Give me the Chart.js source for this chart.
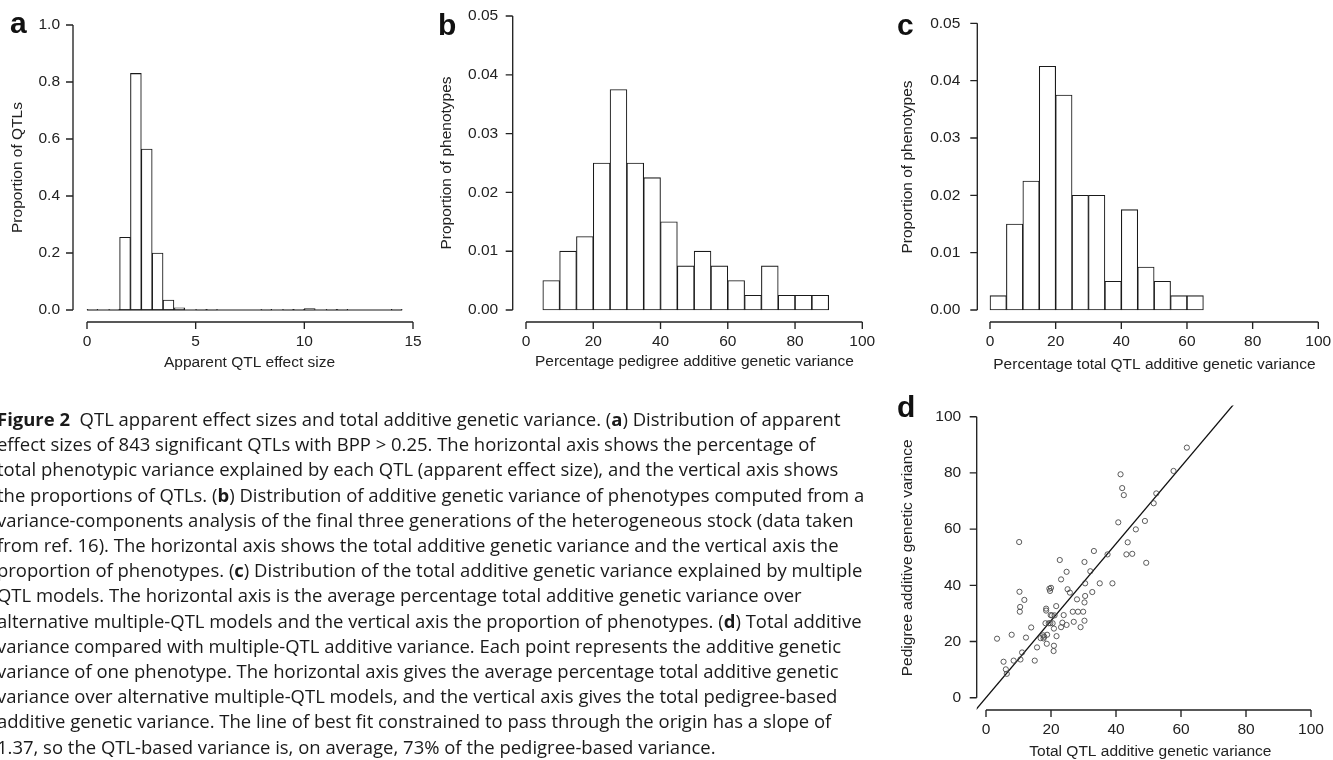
<!DOCTYPE html>
<html>
<head>
<meta charset="utf-8">
<title>Figure 2</title>
<script src="https://cdn.jsdelivr.net/npm/chart.js@4.4.1/dist/chart.umd.min.js"></script>
<style>
  html, body { margin: 0; padding: 0; background: #fff; }
  #page { position: relative; width: 1333px; height: 760px; overflow: hidden; }
  .layer { position: absolute; left: 0; top: 0; width: 1333px; height: 760px; }
  #caption {
    position: absolute; left: -3px; top: 406px;
    font-family: "Open Sans", "Liberation Sans", sans-serif; font-size: 17px; line-height: 25.2px;
    color: #1a1a1a; white-space: pre;
  }
  #caption span { display: inline-block; }
</style>
</head>
<body>
<div id="page">
  <div class="layer"><canvas id="chartA"></canvas></div>
  <div class="layer"><canvas id="chartB"></canvas></div>
  <div class="layer"><canvas id="chartC"></canvas></div>
  <div class="layer"><canvas id="chartD"></canvas></div>
  <div id="caption"><span id="capFirst"><b>Figure 2</b>  QTL apparent effect sizes and total additive genetic variance. (<b>a</b>) Distribution of apparent</span>
effect sizes of 843 significant QTLs with BPP &gt; 0.25. The horizontal axis shows the percentage of
total phenotypic variance explained by each QTL (apparent effect size), and the vertical axis shows
the proportions of QTLs. (<b>b</b>) Distribution of additive genetic variance of phenotypes computed from a
variance-components analysis of the final three generations of the heterogeneous stock (data taken
from ref. 16). The horizontal axis shows the total additive genetic variance and the vertical axis the
proportion of phenotypes. (<b>c</b>) Distribution of the total additive genetic variance explained by multiple
QTL models. The horizontal axis is the average percentage total additive genetic variance over
alternative multiple-QTL models and the vertical axis the proportion of phenotypes. (<b>d</b>) Total additive
variance compared with multiple-QTL additive variance. Each point represents the additive genetic
variance of one phenotype. The horizontal axis gives the average percentage total additive genetic
variance over alternative multiple-QTL models, and the vertical axis gives the total pedigree-based
additive genetic variance. The line of best fit constrained to pass through the origin has a slope of
1.37, so the QTL-based variance is, on average, 73% of the pedigree-based variance.</div>
</div>

<script>
    "use strict";

    // ---- data ----

    // (a) apparent QTL effect size, histogram bins of 0.5 from 0
    const effectBinStart = 0;
    const effectBinWidth = 0.5;
    const effectDensity = [0.0024, 0, 0.0024, 0.255, 0.83, 0.565, 0.2, 0.035, 0.008, 0,
        0.0024, 0.0024, 0, 0, 0, 0, 0.0024, 0, 0.0024, 0.0024,
        0.0047, 0, 0.0024, 0.0024, 0, 0, 0, 0, 0.0024];
    const effectXTicks = [0, 5, 10, 15];
    const effectYTicks = [0, 0.2, 0.4, 0.6, 0.8, 1.0];

    // (b) percentage pedigree additive genetic variance, bins of 5 from 5
    const pedigreeBinStart = 5;
    const pedigreeBinWidth = 5;
    const pedigreeDensity = [0.005, 0.01, 0.0125, 0.025, 0.0375, 0.025, 0.0225, 0.015, 0.0075,
        0.01, 0.0075, 0.005, 0.0025, 0.0075, 0.0025, 0.0025, 0.0025];

    // (c) percentage total QTL additive genetic variance, bins of 5 from 0
    const qtlBinStart = 0;
    const qtlBinWidth = 5;
    const qtlDensity = [0.0025, 0.015, 0.0225, 0.0425, 0.0375, 0.02, 0.02, 0.005, 0.0175,
        0.0075, 0.005, 0.0025, 0.0025];

    const percentXTicks = [0, 20, 40, 60, 80, 100];
    const proportionYTicks = [0, 0.01, 0.02, 0.03, 0.04, 0.05];

    // (d) one point per phenotype
    const qtlVariance = [3.4, 5.4, 6.1, 6.4, 7.9, 8.5, 10.2, 10.3, 10.5, 10.4,
        10.6, 11.1, 11.8, 12.3, 13.9, 15.0, 15.7, 16.8, 17.6, 17.7,
        17.9, 18.3, 18.5, 18.5, 18.7, 18.8, 19.3, 19.5, 19.7, 19.9,
        20.0, 19.8, 20.3, 20.5, 20.9, 20.9, 20.8, 21.1, 21.6, 21.7,
        22.7, 23.1, 23.1, 23.5, 23.9, 24.8, 24.8, 25.1, 25.8, 26.7,
        27.0, 28.0, 28.3, 29.1, 29.9, 30.3, 30.3, 30.3, 30.5, 30.5,
        32.1, 32.7, 33.2, 35.0, 37.4, 38.9, 40.7, 41.4, 41.9, 42.4,
        43.2, 43.6, 45.0, 46.1, 48.9, 49.3, 51.6, 52.4, 57.7, 61.8];
    const pedigreeVariance = [21.0, 12.8, 10.1, 8.5, 22.4, 13.2, 55.4, 37.7, 32.3, 30.6,
        13.6, 16.1, 34.8, 21.4, 25.0, 13.2, 17.9, 21.2, 22.2, 21.1,
        21.7, 26.5, 31.7, 31.0, 19.2, 22.4, 26.5, 38.8, 38.0, 29.4,
        39.1, 26.5, 29.3, 26.5, 24.6, 18.5, 16.6, 29.3, 32.6, 21.9,
        49.0, 42.1, 25.1, 26.7, 29.4, 44.8, 25.9, 38.6, 37.4, 30.6,
        27.0, 35.0, 30.6, 25.1, 30.6, 48.3, 27.4, 33.9, 36.2, 40.7,
        45.0, 37.6, 52.2, 40.7, 51.0, 40.7, 62.4, 79.5, 74.6, 72.1,
        51.0, 55.3, 51.2, 59.9, 62.9, 48.0, 69.2, 72.7, 80.7, 89.0];
    const fitSlope = 1.37;
    const scatterTicks = [0, 20, 40, 60, 80, 100];

    // ---- style ----
    const sInk = "#222222";
    const sFont = "\"Liberation Sans\", Arial, sans-serif";
    const iTickLen = 7;

    // 캡션 첫 줄 폭을 원본(약 844px)에 맞춤
    (function () {
        const oCap = document.getElementById("caption");
        const iW = document.getElementById("capFirst").getBoundingClientRect().width;
        if (iW > 0) {
            oCap.style.fontSize = (17 * 844 / iW).toFixed(2) + "px";
        }
    })();

    /**
     * R 스타일 축 (떨어진 축선, 바깥 눈금, 가로 눈금 라벨)
     */
    const rAxes = {
        id: "rAxes",
        afterDraw: function (chart, args, o) {
            const ctx = chart.ctx;
            const ca = chart.chartArea;
            const x = chart.scales.x;
            const y = chart.scales.y;
            ctx.save();
            ctx.strokeStyle = sInk;
            ctx.fillStyle = sInk;
            ctx.lineWidth = 1.35;

            // y axis
            const ax = ca.left;
            ctx.beginPath();
            ctx.moveTo(ax, y.getPixelForValue(o.yTicks[0]));
            ctx.lineTo(ax, y.getPixelForValue(o.yTicks[o.yTicks.length - 1]));
            o.yTicks.forEach(function (v) {
                const py = y.getPixelForValue(v);
                ctx.moveTo(ax, py);
                ctx.lineTo(ax - iTickLen, py);
            });
            // x axis
            const ay = ca.bottom;
            ctx.moveTo(x.getPixelForValue(o.xTicks[0]), ay);
            ctx.lineTo(x.getPixelForValue(o.xTicks[o.xTicks.length - 1]), ay);
            o.xTicks.forEach(function (v) {
                const px = x.getPixelForValue(v);
                ctx.moveTo(px, ay);
                ctx.lineTo(px, ay + iTickLen);
            });
            ctx.stroke();

            ctx.font = "15.5px " + sFont;
            ctx.textAlign = "right";
            ctx.textBaseline = "middle";
            o.yTicks.forEach(function (v) {
                ctx.fillText(v.toFixed(o.yDigits), ax - o.yLabelGap, y.getPixelForValue(v));
            });
            ctx.textAlign = "center";
            o.xTicks.forEach(function (v) {
                ctx.fillText(String(v), x.getPixelForValue(v), ay + 20);
            });

            // titles
            ctx.fillText(o.xTitle, (ca.left + ca.right) / 2, o.xTitleY);
            ctx.save();
            ctx.translate(o.yTitleX, (ca.top + ca.bottom) / 2);
            ctx.rotate(-Math.PI / 2);
            ctx.fillText(o.yTitle, 0, 0);
            ctx.restore();

            // panel letter
            ctx.font = "bold 30px " + sFont;
            ctx.textAlign = "left";
            ctx.textBaseline = "alphabetic";
            ctx.fillStyle = "#111";
            ctx.fillText(o.letter, o.letterX, o.letterY);
            ctx.restore();
        }
    };

    // 눈금 위치(px)로 축 범위 계산
    function _calibrate(v0, p0, v1, p1, pLo, pHi) {
        const k = (p1 - p0) / (v1 - v0);
        return { min: v0 + (pLo - p0) / k, max: v0 + (pHi - p0) / k };
    }

    function _histData(iStart, iWidth, aDensity) {
        return aDensity.map(function (v, i) {
            return { x: iStart + iWidth * (i + 0.5), y: v };
        });
    }

    function _makeChart(sId, oPanel, aDatasets) {
        const oX = _calibrate(oPanel.xCal[0], oPanel.xCal[1], oPanel.xCal[2], oPanel.xCal[3], oPanel.area.left, oPanel.area.right);
        const oY = _calibrate(oPanel.yCal[0], oPanel.yCal[1], oPanel.yCal[2], oPanel.yCal[3], oPanel.area.bottom, oPanel.area.top);
        return new Chart(document.getElementById(sId).getContext("2d"), {
            type: "bar",
            data: { datasets: aDatasets },
            options: {
                responsive: true,
                maintainAspectRatio: false,
                animation: false,
                events: [],
                layout: {
                    padding: {
                        left: oPanel.area.left,
                        top: oPanel.area.top,
                        right: 1333 - oPanel.area.right,
                        bottom: 760 - oPanel.area.bottom
                    }
                },
                scales: {
                    x: { type: "linear", display: false, offset: false, min: oX.min, max: oX.max },
                    y: { type: "linear", display: false, min: oY.min, max: oY.max }
                },
                plugins: {
                    legend: { display: false },
                    tooltip: { enabled: false },
                    rAxes: oPanel.axes
                }
            },
            plugins: [rAxes]
        });
    }

    function _histDataset(aData) {
        return {
            type: "bar",
            data: aData,
            backgroundColor: "#ffffff",
            borderColor: "#1a1a1a",
            borderWidth: 1.1,
            borderSkipped: false,
            barPercentage: 1,
            categoryPercentage: 1,
            grouped: false
        };
    }

    // (a)
    _makeChart("chartA", {
        area: { left: 73, right: 426, top: 13, bottom: 322 },
        xCal: [0, 87, 15, 413],
        yCal: [0, 310, 1, 25],
        axes: {
            xTicks: effectXTicks, yTicks: effectYTicks, yDigits: 1, yLabelGap: 13,
            xTitle: "Apparent QTL effect size", xTitleY: 363,
            yTitle: "Proportion of QTLs", yTitleX: 18,
            letter: "a", letterX: 10, letterY: 33
        }
    }, [
        {
            type: "line",
            data: [
                { x: effectBinStart, y: 0 },
                { x: effectBinStart + effectBinWidth * effectDensity.length, y: 0 }
            ],
            borderColor: "#1a1a1a",
            borderWidth: 1.1,
            pointRadius: 0
        },
        _histDataset(_histData(effectBinStart, effectBinWidth, effectDensity))
    ]);

    // (b)
    _makeChart("chartB", {
        area: { left: 512.7, right: 876, top: 4, bottom: 322 },
        xCal: [0, 526, 100, 862.3],
        yCal: [0, 310, 0.05, 16],
        axes: {
            xTicks: percentXTicks, yTicks: proportionYTicks, yDigits: 2, yLabelGap: 14.5,
            xTitle: "Percentage pedigree additive genetic variance", xTitleY: 362,
            yTitle: "Proportion of phenotypes", yTitleX: 447,
            letter: "b", letterX: 438, letterY: 35
        }
    }, [
        _histDataset(_histData(pedigreeBinStart, pedigreeBinWidth, pedigreeDensity))
    ]);

    // (c)
    _makeChart("chartC", {
        area: { left: 977.3, right: 1331.5, top: 12, bottom: 322 },
        xCal: [0, 990, 100, 1318.3],
        yCal: [0, 310, 0.05, 23.3],
        axes: {
            xTicks: percentXTicks, yTicks: proportionYTicks, yDigits: 2, yLabelGap: 17,
            xTitle: "Percentage total QTL additive genetic variance", xTitleY: 365,
            yTitle: "Proportion of phenotypes", yTitleX: 908,
            letter: "c", letterX: 897, letterY: 35
        }
    }, [
        _histDataset(_histData(qtlBinStart, qtlBinWidth, qtlDensity))
    ]);

    // (d)
    _makeChart("chartD", {
        area: { left: 976.7, right: 1324, top: 405.5, bottom: 710 },
        xCal: [0, 986, 100, 1311],
        yCal: [0, 697.7, 100, 416.7],
        axes: {
            xTicks: scatterTicks, yTicks: scatterTicks, yDigits: 0, yLabelGap: 15.5,
            xTitle: "Total QTL additive genetic variance", xTitleY: 752,
            yTitle: "Pedigree additive genetic variance", yTitleX: 908,
            letter: "d", letterX: 897, letterY: 417
        }
    }, [
        {
            type: "scatter",
            data: qtlVariance.map(function (v, i) { return { x: v, y: pedigreeVariance[i] }; }),
            pointStyle: "circle",
            pointRadius: 2.6,
            backgroundColor: "rgba(0,0,0,0)",
            borderColor: "#4a4a4a",
            borderWidth: 0.9
        },
        {
            type: "line",
            data: [-10, 110].map(function (v) { return { x: v, y: fitSlope * v }; }),
            borderColor: "#111111",
            borderWidth: 1.3,
            pointRadius: 0
        }
    ]);
</script>
</body>
</html>
